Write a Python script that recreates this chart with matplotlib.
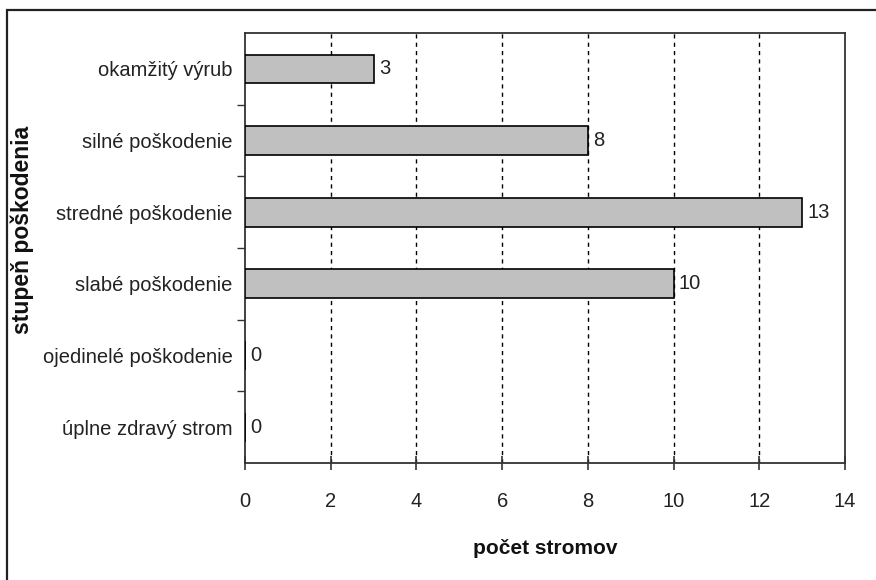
import matplotlib.pyplot as plt
from matplotlib.patches import Rectangle
import numpy as np

plt.rcParams['font.family'] = ['Liberation Sans', 'DejaVu Sans']

# stupne poskodenia, zdola nahor
categories = ['úplne zdravý strom', 'ojedinelé poškodenie', 'slabé poškodenie',
              'stredné poškodenie', 'silné poškodenie', 'okamžitý výrub']
counts = [0, 0, 10, 13, 8, 3]
x_ticks = [0, 2, 4, 6, 8, 10, 12, 14]

fig = plt.figure(figsize=(8.76, 5.8), dpi=100)
ax = fig.add_axes([245 / 876, 1 - 463 / 580, 600 / 876, 430 / 580])

# vonkajsi ramik (vidno len hornu a lavu hranu)
fig.patches.append(Rectangle((7 / 876, -0.2), 1.5, 1.2 - 10 / 580, transform=fig.transFigure,
                             fill=False, edgecolor='#222222', linewidth=1.6))

y = np.arange(len(categories))
ax.barh(y, counts, height=0.4, color='#c0c0c0', edgecolor='black', linewidth=1.2, zorder=3)

for yi, v in zip(y, counts):
    ax.text(v + 0.12, yi, str(v), va='center', ha='left', fontsize=14.5, color='#222222')

ax.set_xlim(0, 14)
ax.set_ylim(-0.5, len(categories) - 0.5)
ax.set_xticks(x_ticks)
ax.set_yticks(y)
ax.set_yticklabels(categories)
ax.set_yticks(np.arange(0.5, len(categories) - 0.5, 1), minor=True)

ax.tick_params(axis='y', which='major', length=0, pad=9, labelsize=14.5, labelcolor='#222222')
ax.tick_params(axis='y', which='minor', length=6, width=1, direction='out', color='#333333')
ax.tick_params(axis='x', which='major', length=10, width=1.2, direction='inout', pad=16,
               labelsize=14.5, labelcolor='#222222', color='#333333')

for xv in x_ticks[1:-1]:
    ax.axvline(xv, color='black', linestyle=(0, (3, 3)), linewidth=1, zorder=1)

for s in ax.spines.values():
    s.set_linewidth(1.3)
    s.set_color('#333333')

ax.set_xlabel('počet stromov', fontsize=15, fontweight='bold', labelpad=20, color='#111111')
fig.text(22 / 876, 1 - 230 / 580, 'stupeň poškodenia', rotation=90, ha='center', va='center',
         fontsize=16.5, fontweight='bold', color='#111111')

fig.savefig('out.png', dpi=100)
